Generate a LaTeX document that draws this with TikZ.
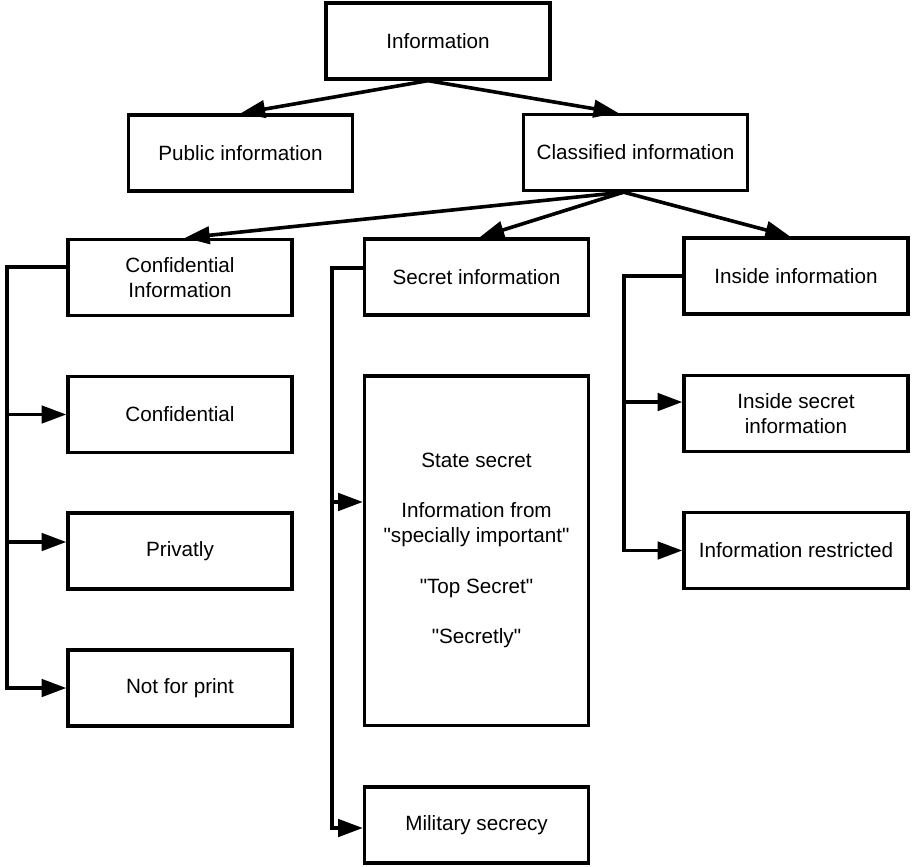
\documentclass[tikz,border=0pt]{standalone}
\usepackage{fontspec}
\setmainfont{Liberation Sans}[Ligatures=TeXOff]
\usetikzlibrary{arrows.meta}
\begin{document}
\begin{tikzpicture}[x=0.75pt,y=-0.75pt,
  box/.style={draw,line width=2.5pt,minimum width=168pt,minimum height=57pt,
    align=center,inner sep=2pt,font=\fontsize{15.5pt}{18.75pt}\selectfont},
  link/.style={line width=2.7pt,-{Triangle[length=18.5pt,width=13pt]}},
  bus/.style={line width=2.7pt}]
\useasboundingbox (0,0) rectangle (912,866);

% top levels
\node[box] (info) at (438,41) {Information};
\node[box] (pub)  at (240.5,153) {Public information};
\node[box] (cls)  at (635.5,152.5) {Classified information};

% third level
\node[box] (cinfo)  at (180,277.5) {Confidential\\Information};
\node[box] (secr)   at (476.5,277) {Secret information};
\node[box] (inside) at (796,276) {Inside information};

% left column
\node[box] (conf) at (180,414.5) {Confidential};
\node[box] (priv) at (180,551) {Privatly};
\node[box] (nfp)  at (180,688) {Not for print};

% middle column
\node[box,minimum height=262pt] (big) at (476.5,550.5)
  {State secret\\[19pt]Information from\\"specially important"\\[19pt]"Top Secret"\\[19pt]"Secretly"};
\node[box] (mil) at (476.5,825) {Military secrecy};

% right column
\node[box] (insec) at (796,413.5) {Inside secret\\information};
\node[box] (inres) at (796,550.5) {Information restricted};

% tree arrows
\draw[link] ([xshift=-7.5pt]info.south) -- (pub.north);
\draw[link] ([xshift=-7.5pt]info.south) -- ([xshift=-13pt]cls.north);
\draw[link] ([xshift=-9pt]cls.south) -- ([xshift=3.75pt]cinfo.north);
\draw[link] ([xshift=-9pt]cls.south) -- ([xshift=2.25pt]secr.north);
\draw[link] ([xshift=-9pt]cls.south) -- ([xshift=-4.5pt]inside.north);

% bus lines
\coordinate (lx) at (7,0);
\coordinate (mx) at (332,0);
\coordinate (rx) at (624,0);

\coordinate (privin) at ([yshift=6.75pt]priv.west);
\coordinate (bigin)  at ([yshift=36.4pt]big.west);
\coordinate (milin)  at ([yshift=-2.25pt]mil.west);
\coordinate (insecin) at ([yshift=8.6pt]insec.west);

\draw[link] ([yshift=7.9pt]cinfo.west) -| (lx |- nfp.west) -- (nfp.west);
\draw[link] (lx |- conf.west) -- (conf.west);
\draw[link] (lx |- privin) -- (privin);

\draw[link] ([yshift=6.75pt]secr.west) -| (mx |- milin) -- (milin);
\draw[link] (mx |- bigin) -- (bigin);

\draw[link] (inside.west) -| (rx |- inres.west) -- (inres.west);
\draw[link] (rx |- insecin) -- (insecin);
\end{tikzpicture}
\end{document}
